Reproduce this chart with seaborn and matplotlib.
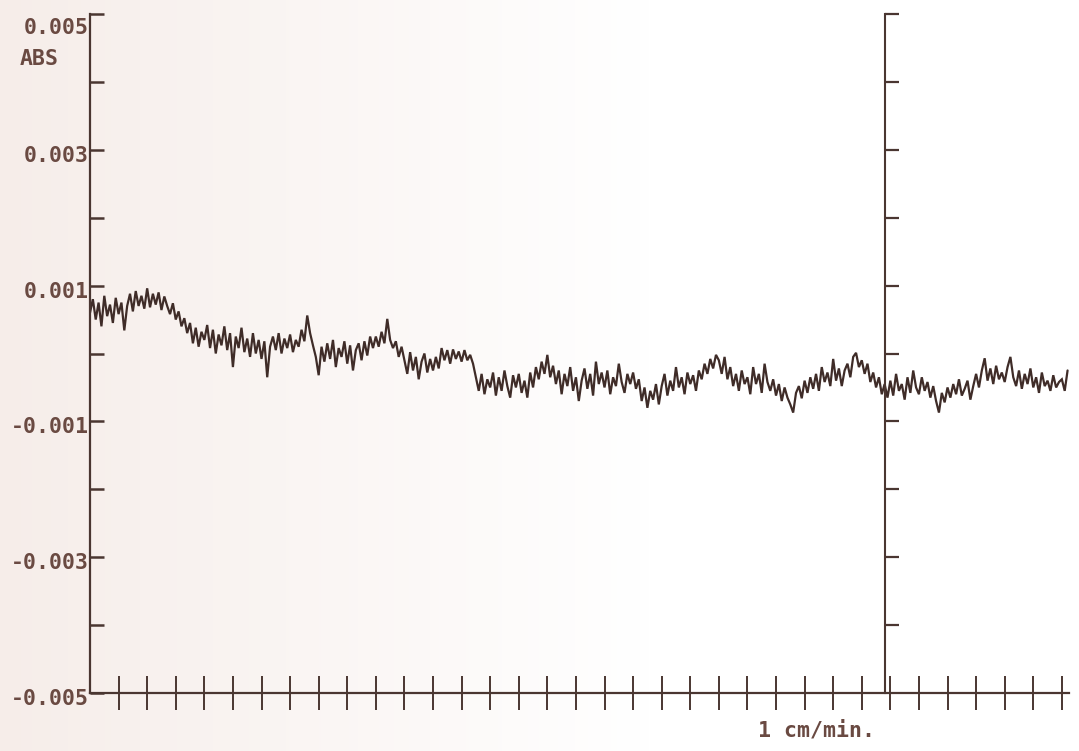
import numpy as np
import pandas as pd
import matplotlib
matplotlib.use("Agg")
import matplotlib.pyplot as plt
import matplotlib.transforms as mtransforms
import seaborn as sns

# Recorder trace: absorbance in units of 1e-5 ABS, one sample every 0.1 chart division
absorbance_1e5 = [
    60, 80, 50, 75, 40, 85, 55, 72, 45, 82,
    58, 75, 34, 70, 88, 62, 92, 70, 85, 66,
    96, 68, 88, 72, 90, 64, 84, 70, 58, 74,
    50, 62, 40, 52, 30, 45, 15, 38, 10, 32,
    20, 42, 8, 35, 0, 28, 12, 40, 5, 30,
    -20, 25, 8, 38, 2, 22, -5, 30, 0, 20,
    -8, 18, -35, 10, 25, 5, 30, 0, 22, 8,
    28, 2, 20, 10, 35, 18, 56, 30, 12, -5,
    -32, 10, -12, 15, -8, 20, -20, 8, -5, 18,
    -15, 12, -25, 5, 15, -10, 18, -3, 25, 8,
    25, 10, 32, 15, 51, 20, 8, 18, -5, 10,
    -10, -30, 2, -25, -5, -38, -12, 0, -28, -8,
    -25, -5, -22, 8, -10, 5, -15, 6, -8, 3,
    -12, 5, -10, -2, -15, -35, -55, -30, -60, -38,
    -50, -28, -62, -35, -55, -25, -48, -65, -32, -50,
    -30, -58, -40, -65, -28, -50, -20, -38, -12, -30,
    -2, -35, -18, -45, -25, -60, -30, -48, -20, -55,
    -35, -70, -40, -22, -52, -30, -62, -12, -45, -28,
    -50, -25, -60, -35, -48, -15, -42, -58, -30, -45,
    -28, -52, -38, -70, -50, -80, -55, -68, -45, -75,
    -48, -30, -62, -40, -55, -20, -50, -35, -60, -28,
    -45, -32, -55, -25, -38, -15, -30, -8, -22, -2,
    -10, -30, -5, -38, -20, -48, -30, -55, -25, -45,
    -35, -60, -20, -45, -30, -58, -15, -42, -55, -38,
    -62, -45, -70, -50, -65, -75, -87, -58, -48, -66,
    -40, -58, -35, -52, -30, -55, -20, -42, -28, -48,
    -8, -40, -22, -48, -25, -15, -35, -5, 1, -20,
    -10, -30, -15, -42, -28, -50, -35, -60, -45, -65,
    -40, -62, -30, -55, -45, -68, -35, -58, -25, -50,
    -60, -35, -55, -42, -65, -48, -70, -87, -58, -72,
    -50, -65, -45, -60, -38, -62, -52, -40, -68, -48,
    -30, -50, -25, -7, -40, -22, -45, -18, -38, -28,
    -42, -20, -5, -35, -48, -25, -52, -30, -45, -22,
    -50, -35, -58, -28, -48, -40, -55, -32, -50, -42,
    -38, -55, -25,
]
sample_step = 0.1          # chart divisions per sample
n_divisions = 34           # chart divisions along the time axis
event_time = 27.8          # position of the vertical event line

y_ticks = [-0.005, -0.004, -0.003, -0.002, -0.001, 0.0, 0.001, 0.002, 0.003, 0.004, 0.005]
y_tick_labels = ["-0.005", "", "-0.003", "", "-0.001", "", "0.001", "", "0.003", "", "0.005"]
x_ticks = list(range(1, n_divisions + 1))
y_unit = "ABS"
speed_label = "1 cm/min."

ink = "#4a3631"
text_ink = "#6a4a42"
font_list = ["DejaVu Sans Mono", "DejaVu Sans"]
label_size = 15.5

df = pd.DataFrame({
    "time": np.arange(len(absorbance_1e5)) * sample_step,
    "abs": np.array(absorbance_1e5) * 1e-5,
})

sns.set_style("ticks")
plt.rcParams["font.family"] = font_list

fig = plt.figure(figsize=(10.79, 7.51), dpi=100)

# faint paper tint, warmer towards the left edge
bg = fig.add_axes([0, 0, 1, 1], zorder=-10)
grad = np.clip(1.0 - np.linspace(0, 1, 400) / 0.6, 0, 1)[None, :]
paper = np.ones((1, 400, 3))
tint = np.array([0.965, 0.93, 0.915])
paper = paper * (1 - grad[..., None]) + tint * grad[..., None]
bg.imshow(paper, aspect="auto", extent=[0, 1, 0, 1])
bg.set_axis_off()

ax = fig.add_axes([90 / 1079, 58 / 751, 979 / 1079, 679 / 751])
ax.set_facecolor("none")

sns.lineplot(data=df, x="time", y="abs", ax=ax, color="#3f2c28",
             linewidth=1.6, estimator=None, sort=False,
             solid_joinstyle="miter")

ax.set_xlim(0, 34.25)
ax.set_ylim(-0.005, 0.005)
ax.set_xlabel("")
ax.set_ylabel("")

for side in ("top", "right"):
    ax.spines[side].set_visible(False)
for side in ("left", "bottom"):
    ax.spines[side].set_color(ink)
    ax.spines[side].set_linewidth(1.6)

ax.set_yticks(y_ticks)
ax.set_yticklabels(y_tick_labels, fontweight="bold")
ax.tick_params(axis="y", direction="in", length=10, width=1.8, color=ink,
               pad=1, labelsize=label_size, labelcolor=text_ink)
ax.set_xticks(x_ticks)
ax.set_xticklabels([])
ax.tick_params(axis="x", direction="inout", length=25, width=1.4, color=ink)

# printed labels sit slightly below their ticks; the top one hangs from it
shift = mtransforms.ScaledTranslation(0, -4 / 100, fig.dpi_scale_trans)
for lbl in ax.get_yticklabels():
    lbl.set_transform(lbl.get_transform() + shift)
ax.get_yticklabels()[-1].set_va("top")

# event marker: a second scale drawn at the event time
ev = ax.inset_axes([event_time, -0.005, 34.25 - event_time, 0.010],
                   transform=ax.transData)
ev.set_facecolor("none")
ev.set_ylim(-0.005, 0.005)
ev.set_xticks([])
ev.set_yticks(y_ticks[1:])
ev.set_yticklabels([])
ev.tick_params(axis="y", direction="in", length=10, width=1.6, color=ink)
for side in ("top", "right", "bottom"):
    ev.spines[side].set_visible(False)
ev.spines["left"].set_color(ink)
ev.spines["left"].set_linewidth(1.5)

fig.text(20 / 1079, 1 - 59 / 751, y_unit, ha="left", va="center",
         fontsize=label_size, fontweight="bold", color=text_ink)
fig.text(817 / 1079, 1 - 731 / 751, speed_label, ha="center", va="center",
         fontsize=label_size, fontweight="bold", color=text_ink)

fig.savefig("out.png", dpi=100)
